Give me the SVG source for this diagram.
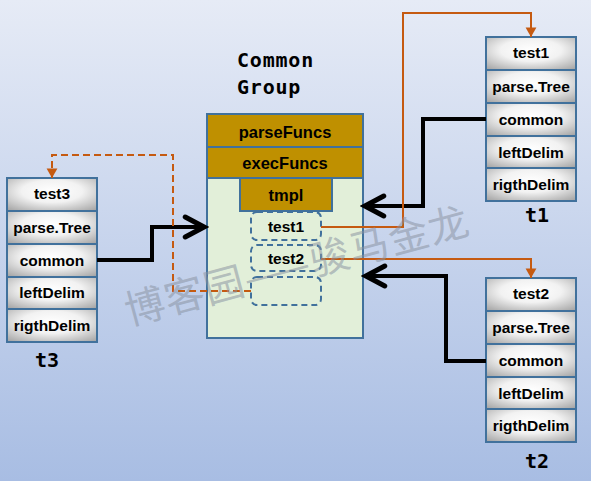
<svg xmlns="http://www.w3.org/2000/svg" width="591" height="481" viewBox="0 0 591 481">
<defs>
<linearGradient id="bg" x1="0" y1="0" x2="0" y2="1">
<stop offset="0" stop-color="#e6ebf6"/>
<stop offset="1" stop-color="#a8bde3"/>
</linearGradient>
<radialGradient id="cell" cx="0.5" cy="0.4" r="0.75">
<stop offset="0" stop-color="#ffffff"/>
<stop offset="0.45" stop-color="#f2f2f2"/>
<stop offset="1" stop-color="#a5a5a5"/>
</radialGradient>
<marker id="blk" markerUnits="userSpaceOnUse" markerWidth="30" markerHeight="30" viewBox="-20 -12 24 24" refX="0" refY="0" orient="auto">
<path d="M-15,-8 L0,0 L-15,8" fill="none" stroke="#000" stroke-width="4" stroke-linecap="round" stroke-linejoin="miter"/>
</marker>
<marker id="org" markerUnits="userSpaceOnUse" markerWidth="12" markerHeight="12" viewBox="-9 -5 10 10" refX="0" refY="0" orient="auto">
<path d="M-8,-4.5 L0,0 L-8,4.5 z" fill="#c55a11"/>
</marker>
</defs>
<style>
.cell{fill:url(#cell);stroke:#41719c;stroke-width:2}
.lbl{font-family:"Liberation Sans",Arial,sans-serif;font-weight:bold;font-size:15.5px;text-anchor:middle;fill:#000}
.big{font-family:"Liberation Sans",Arial,sans-serif;font-weight:bold;font-size:16.5px;text-anchor:middle;fill:#000}
.mono{font-family:"DejaVu Sans Mono","Liberation Mono",monospace;font-weight:bold;font-size:20px;fill:#000}
.gold{fill:#bf9000;stroke:#41719c;stroke-width:2}
.dash{fill:none;stroke:#41719c;stroke-width:2;stroke-dasharray:6 4}
.bl{fill:none;stroke:#000;stroke-width:4;marker-end:url(#blk)}
.or{fill:none;stroke:#c55a11;stroke-width:2;marker-end:url(#org)}
.ord{fill:none;stroke:#c55a11;stroke-width:2;stroke-dasharray:7 4;marker-end:url(#org)}
</style>
<rect x="0" y="0" width="591" height="481" fill="url(#bg)"/>

<g id="common-group">
<text class="mono" x="237" y="67" letter-spacing="0.8">Common</text>
<text class="mono" x="237" y="94" letter-spacing="0.8">Group</text>
<rect x="207" y="114" width="156" height="224" fill="#e2efd9" stroke="#41719c" stroke-width="2"/>
<rect class="gold" x="207" y="114" width="156" height="33"/>
<rect class="gold" x="207" y="147" width="156" height="31"/>
<rect class="gold" x="240" y="178" width="92" height="33"/>
<text class="big" x="285" y="138">parseFuncs</text>
<text class="big" x="285" y="169">execFuncs</text>
<text class="big" x="286" y="201" font-size="18">tmpl</text>
<rect class="dash" x="251" y="212" width="70" height="28" rx="6"/>
<rect class="dash" x="251" y="245" width="70" height="26" rx="6"/>
<rect class="dash" x="251" y="277" width="70" height="28" rx="6"/>
<text class="lbl" x="286" y="232">test1</text>
<text class="lbl" x="286" y="264">test2</text>
</g>

<g id="t3">
<rect class="cell" x="7" y="178" width="90" height="33"/>
<rect class="cell" x="7" y="211" width="90" height="33"/>
<rect class="cell" x="7" y="244" width="90" height="33"/>
<rect class="cell" x="7" y="277" width="90" height="32"/>
<rect class="cell" x="7" y="309" width="90" height="33"/>
<text class="lbl" x="52" y="199">test3</text>
<text class="lbl" x="52" y="233">parse.Tree</text>
<text class="lbl" x="52" y="266">common</text>
<text class="lbl" x="52" y="298">leftDelim</text>
<text class="lbl" x="52" y="331">rigthDelim</text>
<text class="mono" x="47" y="367" text-anchor="middle">t3</text>
</g>

<g id="t1">
<rect class="cell" x="486" y="37" width="90" height="33"/>
<rect class="cell" x="486" y="70" width="90" height="33"/>
<rect class="cell" x="486" y="103" width="90" height="33"/>
<rect class="cell" x="486" y="136" width="90" height="32"/>
<rect class="cell" x="486" y="168" width="90" height="33"/>
<text class="lbl" x="531" y="58">test1</text>
<text class="lbl" x="531" y="92">parse.Tree</text>
<text class="lbl" x="531" y="125">common</text>
<text class="lbl" x="531" y="158">leftDelim</text>
<text class="lbl" x="531" y="190">rigthDelim</text>
<text class="mono" x="537" y="222" text-anchor="middle">t1</text>
</g>

<g id="t2">
<rect class="cell" x="486" y="278" width="90" height="33"/>
<rect class="cell" x="486" y="311" width="90" height="33"/>
<rect class="cell" x="486" y="344" width="90" height="33"/>
<rect class="cell" x="486" y="377" width="90" height="32"/>
<rect class="cell" x="486" y="409" width="90" height="33"/>
<text class="lbl" x="531" y="299">test2</text>
<text class="lbl" x="531" y="333">parse.Tree</text>
<text class="lbl" x="531" y="366">common</text>
<text class="lbl" x="531" y="399">leftDelim</text>
<text class="lbl" x="531" y="431">rigthDelim</text>
<text class="mono" x="537" y="468" text-anchor="middle">t2</text>
</g>

<g id="connectors">
<polyline class="bl" points="97,260 152,260 152,227 204,227"/>
<polyline class="bl" points="486,119 423,119 423,206 365,206"/>
<polyline class="bl" points="486,361 446,361 446,276 366,276"/>
<polyline class="or" points="321,227 403,227 403,13 531,13 531,37"/>
<polyline class="or" points="321,259 531,259 531,278"/>
<polyline class="ord" points="251,291 173,291 173,155 52,155 52,178"/>
</g>

<text x="297" y="280" transform="rotate(-15 297 266)" text-anchor="middle" font-family="Noto Sans CJK SC, sans-serif" font-size="40" fill="#8a93a2" fill-opacity="0.55" letter-spacing="1">博客园——骏马金龙</text>
</svg>
